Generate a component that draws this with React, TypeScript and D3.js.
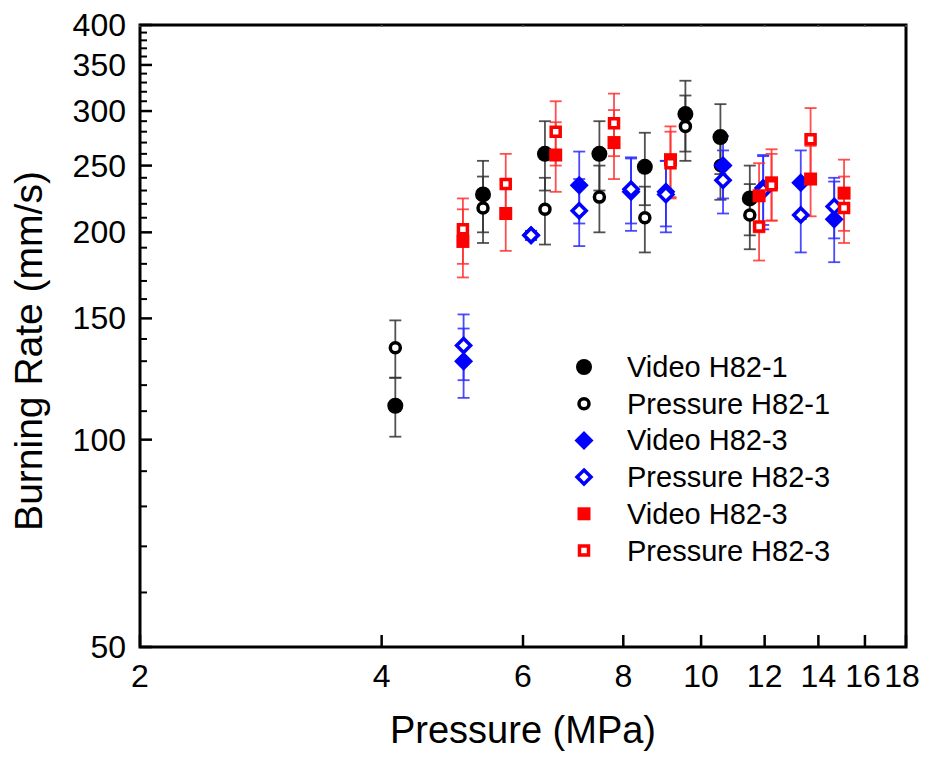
import React, { useEffect, useRef } from 'react';
import * as d3 from 'd3';

// Pressure (MPa), burning rate (mm/s) and error (+/- mm/s)
const videoH821P = [4.16, 5.35, 6.39, 7.47, 8.51, 9.56, 10.57, 11.5];
const videoH821V = [112, 227, 260, 260, 249, 297, 275, 224];
const videoH821E = [11, 27, 30, 30, 30, 35, 32, 26];

const pressH821P = [4.16, 5.35, 6.39, 7.47, 8.51, 9.56, 10.57, 11.5];
const pressH821V = [136, 217, 216, 225, 210, 285, 250, 212];
const pressH821E = [13, 24, 24, 25, 23, 31, 27, 23];

const videoBlueP = [5.06, 6.14, 7.05, 8.18, 9.04, 10.65, 11.95, 13.31, 14.65];
const videoBlueV = [130, 198, 234, 229, 229, 250, 232, 236, 209];
const videoBlueE = [15, 3, 28, 28, 25, 26, 27, 27, 28];

const pressBlueP = [5.06, 6.14, 7.05, 8.18, 9.04, 10.65, 11.95, 13.31, 14.65];
const pressBlueV = [137, 198, 215, 231, 227, 238, 230, 212, 218];
const pressBlueE = [15, 3, 24, 25, 27, 25, 28, 25, 22];

const videoRedP = [5.05, 5.71, 6.59, 7.79, 9.16, 11.81, 12.24, 13.69, 15.07];
const videoRedV = [194, 213, 259, 270, 255, 226, 236, 239, 228];
const videoRedE = [22, 25, 30, 31, 30, 26, 28, 28, 27];

const pressRedP = [5.05, 5.71, 6.59, 7.79, 9.16, 11.81, 12.24, 13.69, 15.07];
const pressRedV = [202, 235, 280, 288, 252, 204, 234, 273, 217];
const pressRedE = [22, 25, 30, 30, 28, 22, 26, 30, 24];

const seriesNames = [
  'Video H82-1',
  'Pressure H82-1',
  'Video H82-3',
  'Pressure H82-3',
  'Video H82-3',
  'Pressure H82-3',
];

const xTicks = [2, 4, 6, 8, 10, 12, 14, 16, 18];
const yTicks = [50, 100, 150, 200, 250, 300, 350, 400];
const yMinorTicks = d3.range(60, 400, 10).filter((v) => v % 50 !== 0);

const FONT = '"Liberation Sans", Arial, sans-serif';

const zip = (p: number[], v: number[], e: number[]) =>
  p.map((d, i) => ({ p: d, v: v[i], e: e[i] }));

const series = [
  { name: seriesNames[0], color: '#000000', shape: 'circle', open: false, bar: '#333333', items: zip(videoH821P, videoH821V, videoH821E) },
  { name: seriesNames[1], color: '#000000', shape: 'circle', open: true, bar: '#333333', items: zip(pressH821P, pressH821V, pressH821E) },
  { name: seriesNames[2], color: '#0000ff', shape: 'diamond', open: false, bar: '#2a2aff', items: zip(videoBlueP, videoBlueV, videoBlueE) },
  { name: seriesNames[3], color: '#0000ff', shape: 'diamond', open: true, bar: '#2a2aff', items: zip(pressBlueP, pressBlueV, pressBlueE) },
  { name: seriesNames[4], color: '#ff0000', shape: 'square', open: false, bar: '#ff3030', items: zip(videoRedP, videoRedV, videoRedE) },
  { name: seriesNames[5], color: '#ff0000', shape: 'square', open: true, bar: '#ff3030', items: zip(pressRedP, pressRedV, pressRedE) },
];

const markerPath = (shape: string, open: boolean) => {
  if (shape === 'circle') {
    const r = open ? 5 : 8;
    return `M${-r},0A${r},${r} 0 1,0 ${r},0A${r},${r} 0 1,0 ${-r},0Z`;
  }
  if (shape === 'diamond') {
    const h = open ? 7 : 9.5;
    return `M0,${-h}L${h},0L0,${h}L${-h},0Z`;
  }
  const s = open ? 4.5 : 6.5;
  return `M${-s},${-s}H${s}V${s}H${-s}Z`;
};

const App = () => {
  const svgRef = useRef(null);
  const width = 928;
  const height = 757;
  const margin = { left: 140, top: 25, right: 22, bottom: 110 };
  const innerW = width - margin.left - margin.right;
  const innerH = height - margin.top - margin.bottom;

  useEffect(() => {
    const xScale = d3.scaleLog().domain([2, 18]).range([0, innerW]);
    const yScale = d3.scaleLog().domain([50, 400]).range([innerH, 0]);

    const svgEl = d3.select(svgRef.current);
    svgEl.selectAll('*').remove();
    const svg = svgEl
      .append('g')
      .attr('transform', `translate(${margin.left},${margin.top})`);

    // Frame
    svg
      .append('rect')
      .attr('x', 0)
      .attr('y', 0)
      .attr('width', innerW)
      .attr('height', innerH)
      .attr('fill', 'none')
      .attr('stroke', '#000')
      .attr('stroke-width', 3);

    // X ticks (inside) and labels
    const xg = svg.append('g');
    xg.selectAll('line.xt')
      .data(xTicks)
      .enter()
      .append('line')
      .attr('x1', (d) => xScale(d))
      .attr('x2', (d) => xScale(d))
      .attr('y1', innerH)
      .attr('y2', innerH - 12)
      .attr('stroke', '#000')
      .attr('stroke-width', 2.5);
    xg.selectAll('line.xtop')
      .data(xTicks)
      .enter()
      .append('line')
      .attr('x1', (d) => xScale(d))
      .attr('x2', (d) => xScale(d))
      .attr('y1', 0)
      .attr('y2', 2)
      .attr('stroke', '#555')
      .attr('stroke-width', 1.5);
    xg.selectAll('text')
      .data(xTicks)
      .enter()
      .append('text')
      .attr('x', (d) => xScale(d) - (d === 18 ? 4 : d === 16 ? 2 : 0))
      .attr('y', innerH + 40)
      .attr('text-anchor', 'middle')
      .attr('font-family', FONT)
      .attr('font-size', 32)
      .attr('fill', '#000')
      .text((d) => d);

    // Y ticks and labels
    const yg = svg.append('g');
    yg.selectAll('line.ym')
      .data(yMinorTicks)
      .enter()
      .append('line')
      .attr('x1', 0)
      .attr('x2', 7)
      .attr('y1', (d) => yScale(d))
      .attr('y2', (d) => yScale(d))
      .attr('stroke', '#000')
      .attr('stroke-width', 2);
    yg.selectAll('line.yt')
      .data(yTicks)
      .enter()
      .append('line')
      .attr('x1', 0)
      .attr('x2', 12)
      .attr('y1', (d) => yScale(d))
      .attr('y2', (d) => yScale(d))
      .attr('stroke', '#000')
      .attr('stroke-width', 2.5);
    yg.selectAll('text')
      .data(yTicks)
      .enter()
      .append('text')
      .attr('x', -14)
      .attr('y', (d) => yScale(d) + 11)
      .attr('text-anchor', 'end')
      .attr('font-family', FONT)
      .attr('font-size', 32)
      .attr('fill', '#000')
      .text((d) => d);

    // Axis titles
    svg
      .append('text')
      .attr('x', 383)
      .attr('y', innerH + 96)
      .attr('text-anchor', 'middle')
      .attr('font-family', FONT)
      .attr('font-size', 38)
      .attr('fill', '#000')
      .text('Pressure (MPa)');
    svg
      .append('text')
      .attr('transform', `translate(${-98},${326}) rotate(-90)`)
      .attr('text-anchor', 'middle')
      .attr('font-family', FONT)
      .attr('font-size', 39)
      .attr('fill', '#000')
      .text('Burning Rate (mm/s)');

    // Error bars, then markers
    series.forEach((s) => {
      const g = svg.append('g');
      const bars = g
        .selectAll('g.eb')
        .data(s.items)
        .enter()
        .append('g')
        .attr('stroke', s.bar)
        .attr('stroke-opacity', 0.85)
        .attr('stroke-width', 1.8);
      bars
        .append('line')
        .attr('x1', (d) => xScale(d.p))
        .attr('x2', (d) => xScale(d.p))
        .attr('y1', (d) => yScale(d.v + d.e))
        .attr('y2', (d) => yScale(d.v - d.e));
      bars
        .append('line')
        .attr('x1', (d) => xScale(d.p) - 6)
        .attr('x2', (d) => xScale(d.p) + 6)
        .attr('y1', (d) => yScale(d.v + d.e))
        .attr('y2', (d) => yScale(d.v + d.e));
      bars
        .append('line')
        .attr('x1', (d) => xScale(d.p) - 6)
        .attr('x2', (d) => xScale(d.p) + 6)
        .attr('y1', (d) => yScale(d.v - d.e))
        .attr('y2', (d) => yScale(d.v - d.e));
    });

    series.forEach((s) => {
      svg
        .append('g')
        .selectAll('path')
        .data(s.items)
        .enter()
        .append('path')
        .attr('transform', (d) => `translate(${xScale(d.p)},${yScale(d.v)})`)
        .attr('d', markerPath(s.shape, s.open))
        .attr('fill', s.open ? '#fff' : s.color)
        .attr('stroke', s.color)
        .attr('stroke-width', s.open ? 3.5 : 0);
    });

    // Legend
    const legend = svg
      .append('g')
      .attr('transform', `translate(${584 - margin.left},${367 - margin.top})`);
    const rows = legend
      .selectAll('g')
      .data(series)
      .enter()
      .append('g')
      .attr('transform', (d, i) => `translate(0,${i * 36.7})`);
    rows
      .append('path')
      .attr('d', (d) => markerPath(d.shape, d.open))
      .attr('fill', (d) => (d.open ? '#fff' : d.color))
      .attr('stroke', (d) => d.color)
      .attr('stroke-width', (d) => (d.open ? 3.5 : 0));
    rows
      .append('text')
      .attr('x', 43)
      .attr('y', 10)
      .attr('font-family', FONT)
      .attr('font-size', 29)
      .attr('fill', '#000')
      .text((d) => d.name);
  }, []);

  return (
    <svg
      ref={svgRef}
      width={width}
      height={height}
      style={{ position: 'absolute', left: 0, top: 0, background: '#fff' }}
    />
  );
};

export default App;
